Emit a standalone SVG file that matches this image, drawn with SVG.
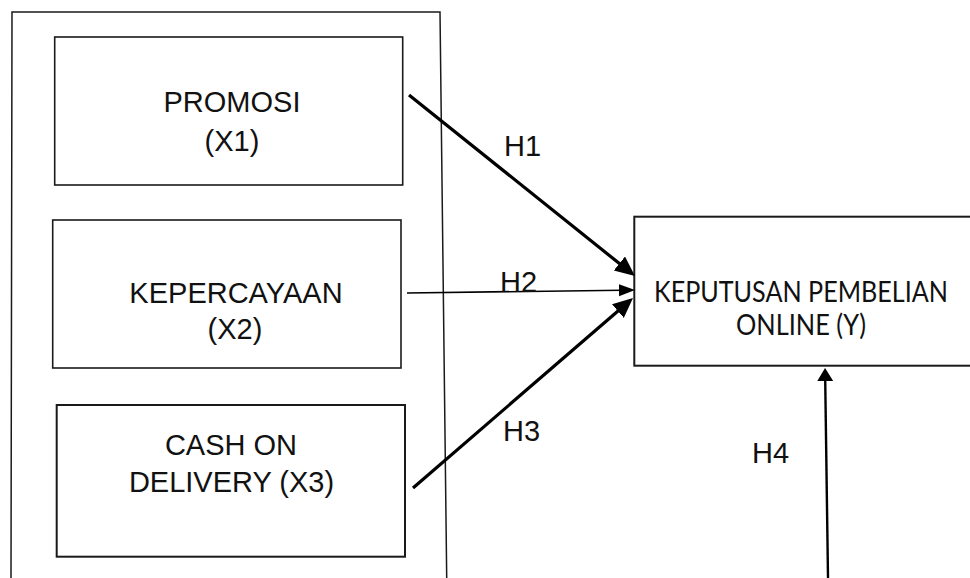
<svg xmlns="http://www.w3.org/2000/svg" width="970" height="578" viewBox="0 0 970 578">
  <style>
    .box { fill: #ffffff; stroke: #1a1a1a; stroke-width: 1.6; }
    .frame { fill: none; stroke: #1a1a1a; stroke-width: 1.5; }
    .lbl { font-family: "Liberation Sans", Arial, sans-serif; font-size: 29px; fill: #111; text-anchor: middle; }
    .hyp { font-family: "Liberation Sans", Arial, sans-serif; font-size: 29px; fill: #111; }
    .out { font-family: Lato, "Open Sans", sans-serif; font-size: 28px; fill: #111; text-anchor: middle; }
    .thick { stroke: #000; stroke-width: 3.2; fill: none; }
    .thin { stroke: #000; stroke-width: 1.6; fill: none; }
    .mid { stroke: #000; stroke-width: 2.4; fill: none; }
  </style>
  <defs>
    <marker id="headBig" markerUnits="userSpaceOnUse" markerWidth="22" markerHeight="20" refX="4" refY="9" orient="auto">
      <path d="M0,0 L20,9 L0,18 z" fill="#000"/>
    </marker>
    <marker id="headSmall" markerUnits="userSpaceOnUse" markerWidth="18" markerHeight="14" refX="3" refY="6" orient="auto">
      <path d="M0,0 L16,6 L0,12 z" fill="#000"/>
    </marker>
    <marker id="headMid" markerUnits="userSpaceOnUse" markerWidth="15" markerHeight="18" refX="2" refY="8" orient="auto">
      <path d="M0,0 L13,8 L0,16 z" fill="#000"/>
    </marker>
  </defs>

  <rect width="970" height="578" fill="#ffffff"/>

  <!-- open frame around the independent variables -->
  <g id="frame">
    <polyline class="frame" points="11,578 12,12 440,12 446.7,578"/>
  </g>

  <g id="promosi">
    <rect class="box" x="54.7" y="37" width="348" height="148"/>
    <text class="lbl" x="232" y="111.5">PROMOSI</text>
    <text class="lbl" x="232" y="150.5">(X1)</text>
  </g>

  <g id="kepercayaan">
    <rect class="box" x="52.7" y="220" width="348.3" height="148"/>
    <text class="lbl" x="236" y="303">KEPERCAYAAN</text>
    <text class="lbl" x="235" y="339">(X2)</text>
  </g>

  <g id="cod">
    <rect class="box" x="56.7" y="405" width="348.3" height="151.7" style="stroke-width:2"/>
    <text class="lbl" x="231" y="455">CASH ON</text>
    <text class="lbl" x="231.5" y="491.5">DELIVERY (X3)</text>
  </g>

  <g id="keputusan">
    <rect class="box" x="634.3" y="216.7" width="345" height="149" style="stroke-width:2"/>
    <text class="out" x="801" y="302" textLength="294" lengthAdjust="spacingAndGlyphs">KEPUTUSAN PEMBELIAN</text>
    <text class="out" x="801" y="335" textLength="130" lengthAdjust="spacingAndGlyphs">ONLINE (Y)</text>
  </g>

  <g id="connectors">
    <line class="thick" x1="409" y1="95" x2="622.5" y2="266" marker-end="url(#headBig)"/>
    <line class="thin" x1="407" y1="293" x2="622" y2="290.2" marker-end="url(#headSmall)"/>
    <line class="thick" x1="413" y1="488" x2="620.9" y2="308.5" marker-end="url(#headBig)"/>
    <line class="mid" x1="828" y1="578" x2="825.2" y2="379" marker-end="url(#headMid)"/>
  </g>

  <g id="labels">
    <text class="hyp" x="504" y="156">H1</text>
    <text class="hyp" x="500" y="291.5">H2</text>
    <text class="hyp" x="503" y="441">H3</text>
    <text class="hyp" x="752" y="463">H4</text>
  </g>
</svg>
